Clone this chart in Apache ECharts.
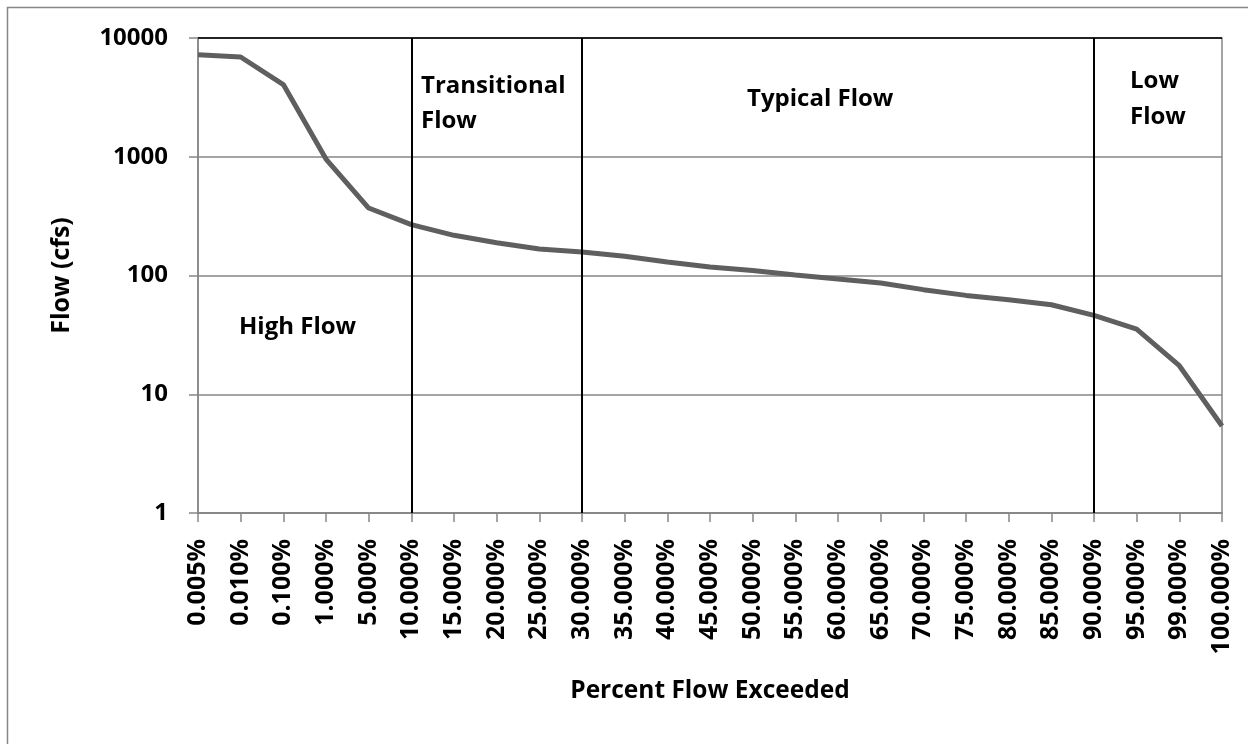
<!DOCTYPE html>
<html>
<head>
<meta charset="utf-8">
<script src="https://cdn.jsdelivr.net/npm/echarts@6/dist/echarts.min.js"></script>
<style>
  html, body { margin: 0; padding: 0; background: #fff; }
  #chart { width: 1248px; height: 744px; }
</style>
</head>
<body>
<div id="chart"></div>
<script>
const categories = ["0.005%", "0.010%", "0.100%", "1.000%", "5.000%", "10.000%", "15.000%", "20.000%",
    "25.000%", "30.000%", "35.000%", "40.000%", "45.000%", "50.000%", "55.000%", "60.000%", "65.000%",
    "70.000%", "75.000%", "80.000%", "85.000%", "90.000%", "95.000%", "99.000%", "100.000%"]
const flowValues = [7230, 6920, 4050, 957, 370, 268, 218, 189, 167, 158, 145, 130, 118, 110, 101,
    93.5, 86.5, 76, 68, 62.5, 56.7, 46.1, 35.4, 17.4, 5.4]
const boundaries = ["10.000%", "30.000%", "90.000%"]

const font = "'Open Sans', 'Noto Sans', sans-serif"
const gridColor = "#868686"

const chart = echarts.init(document.getElementById("chart"))

const option = {
    animation: false,
    backgroundColor: "#fff",
    grid: {
        left: 198,
        right: 26,
        top: 38,
        bottom: 231,
        show: true,
        borderColor: gridColor,
        borderWidth: 1.5
    },
    xAxis: {
        type: "category",
        data: categories,
        boundaryGap: false,
        name: "Percent Flow Exceeded",
        nameLocation: "middle",
        nameGap: 166,
        nameTextStyle: { fontFamily: font, fontWeight: "bold", fontSize: 24.5, color: "#000" },
        axisLine: { lineStyle: { color: gridColor, width: 1.5 } },
        axisTick: { show: true, length: 9, interval: 0, lineStyle: { color: gridColor, width: 1.5 } },
        axisLabel: {
            interval: 0,
            rotate: 90,
            margin: 26,
            fontFamily: font,
            fontWeight: "bold",
            fontSize: 25,
            color: "#000"
        },
        splitLine: { show: false }
    },
    yAxis: {
        type: "log",
        logBase: 10,
        min: 1,
        max: 10000,
        name: "Flow (cfs)",
        nameLocation: "middle",
        nameGap: 124,
        nameTextStyle: { fontFamily: font, fontWeight: "bold", fontSize: 25, color: "#000" },
        axisLine: { show: true, lineStyle: { color: gridColor, width: 1.5 } },
        axisTick: { show: true, length: 9, lineStyle: { color: gridColor, width: 1.5 } },
        axisLabel: {
            margin: 30,
            fontFamily: font,
            fontWeight: "bold",
            fontSize: 24,
            color: "#000",
            formatter: v => String(Math.round(v))
        },
        minorTick: { show: false },
        splitLine: { show: true, lineStyle: { color: gridColor, width: 1.5 } }
    },
    series: [
        {
            name: "Flow",
            type: "line",
            data: flowValues,
            symbol: "none",
            lineStyle: { color: "#5f5f5f", width: 5 },
            markLine: {
                silent: true,
                symbol: "none",
                label: { show: false },
                lineStyle: { color: "#000", width: 2, type: "solid" },
                data: boundaries.map(b => ({ xAxis: b })).concat([
                    { yAxis: 10000, lineStyle: { color: "#000", width: 1.5, type: "solid" } }
                ])
            }
        }
    ],
    graphic: [
        {
            type: "rect",
            silent: true,
            shape: { x: 7.5, y: 7.5, width: 1400, height: 900 },
            style: { fill: null, stroke: gridColor, lineWidth: 1.5 }
        },
        {
            type: "text",
            left: 421,
            top: 69,
            style: { text: "Transitional\nFlow", font: "bold 24px " + font, fill: "#000", lineHeight: 35 }
        },
        {
            type: "text",
            left: 747,
            top: 87,
            style: { text: "Typical Flow", font: "bold 24px " + font, fill: "#000" }
        },
        {
            type: "text",
            left: 1130,
            top: 63,
            style: { text: "Low\nFlow", font: "bold 24px " + font, fill: "#000", lineHeight: 36 }
        },
        {
            type: "text",
            left: 239,
            top: 315,
            style: { text: "High Flow", font: "bold 24px " + font, fill: "#000" }
        }
    ]
}
chart.setOption(option)
</script>
</body>
</html>
